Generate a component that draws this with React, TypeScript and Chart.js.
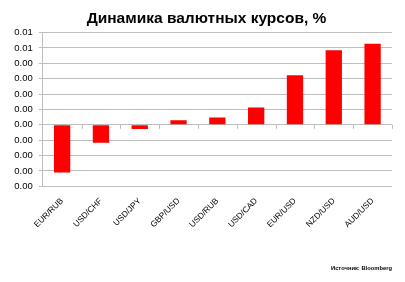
import React, { useEffect, useRef } from "react";
import { Chart, registerables } from "chart.js";

Chart.register(...registerables);

const categories = ["EUR/RUB", "USD/CHF", "USD/JPY", "GBP/USD", "USD/RUB", "USD/CAD", "EUR/USD", "NZD/USD", "AUD/USD"];
const values = [-0.0031, -0.00117, -0.00028, 0.0003, 0.00048, 0.00113, 0.00322, 0.00485, 0.00528];
const yTickLabels = ["0.00", "0.00", "0.00", "0.00", "0.00", "0.00", "0.00", "0.00", "0.00", "0.01", "0.01"];
const titleText = "Динамика валютных курсов, %";
const sourceText = "Источник: Bloomberg";

const TITLE_FONT = "bold 15.5px 'Liberation Sans'";

const zeroTicks = {
  id: "zeroTicks",
  afterDatasetsDraw(chart: any) {
    const x = chart.scales.x;
    const y = chart.scales.y;
    const y0 = y.getPixelForValue(0);
    const ctx = chart.ctx;
    ctx.save();
    ctx.strokeStyle = "#BDBDBD";
    ctx.lineWidth = 1;
    ctx.beginPath();
    const n = categories.length;
    for (let i = 1; i <= n; i++) {
      const a = x.getPixelForValue(i - 1);
      const b = i < n ? x.getPixelForValue(i) : a + (a - x.getPixelForValue(i - 2));
      const px = Math.round((a + b) / 2) + 0.5;
      ctx.moveTo(px, y0);
      ctx.lineTo(px, y0 + 4);
    }
    ctx.stroke();
    ctx.restore();
  },
};

const centeredTitle = {
  id: "centeredTitle",
  afterDraw(chart: any) {
    const t = chart.titleBlock;
    if (!t) return;
    const ctx = chart.ctx;
    ctx.save();
    ctx.font = TITLE_FONT;
    ctx.fillStyle = "#000000";
    ctx.textAlign = "center";
    ctx.textBaseline = "middle";
    ctx.fillText(titleText, chart.width / 2 + 4, t.top + 9 + 15.5 * 0.6);
    ctx.restore();
  },
};

export default function App() {
  const ref = useRef<HTMLCanvasElement>(null);
  useEffect(() => {
    const chart = new Chart(ref.current!, {
      type: "bar",
      data: {
        labels: categories,
        datasets: [
          {
            data: values,
            backgroundColor: "#FF0000",
            borderWidth: 0,
            categoryPercentage: 0.84,
            barPercentage: 0.5,
          },
        ],
      },
      plugins: [zeroTicks, centeredTitle],
      options: {
        animation: false,
        responsive: false,
        layout: { padding: { left: 10, right: 13, top: 0, bottom: 0 } },
        plugins: {
          legend: { display: false },
          tooltip: { enabled: false },
          title: {
            display: true,
            text: titleText,
            color: "rgba(0,0,0,0)",
            font: { family: "Liberation Sans", size: 15.5, weight: "bold" },
            padding: { top: 9, bottom: 5 },
          },
          subtitle: {
            display: true,
            text: sourceText,
            position: "bottom",
            align: "end",
            color: "#000000",
            font: { family: "Liberation Sans", size: 5.8, weight: "bold" },
            padding: { top: 0, bottom: 10 },
          },
        },
        scales: {
          x: {
            grid: { display: false },
            border: { display: false },
            ticks: {
              minRotation: 45,
              maxRotation: 45,
              color: "#000000",
              padding: 2,
              font: { family: "Liberation Sans", size: 8.3 },
            },
            afterFit(scale: any) {
              scale.height = 78.8;
            },
          },
          y: {
            min: -0.004,
            max: 0.006,
            ticks: {
              stepSize: 0.001,
              color: "#000000",
              padding: 6,
              font: { family: "Liberation Sans", size: 9.5 },
              callback: (_v: any, i: number) => yTickLabels[i],
            },
            grid: { color: "#BDBDBD", lineWidth: 1, tickLength: 4 },
            border: { color: "#BDBDBD", width: 1 },
            afterFit(scale: any) {
              scale.width = 32.7;
            },
          },
        },
      },
    });
    return () => chart.destroy();
  }, []);
  return (
    <div style={{ position: "fixed", left: 0, top: 0, width: 405, height: 282, background: "#fff" }}>
      <canvas ref={ref} width={405} height={282} style={{ width: 405, height: 282 }} />
    </div>
  );
}
